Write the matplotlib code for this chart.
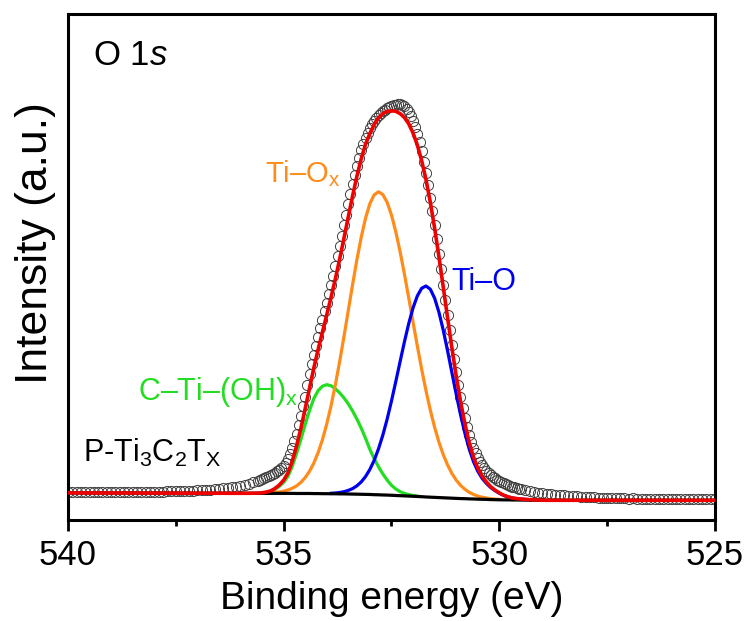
"""
O 1s XPS spectrum of P-Ti3C2Tx with the fitted components.

Values are read off the reference picture (arbitrary intensity units).
"""

import numpy as np
import matplotlib

matplotlib.use("Agg")
import matplotlib.pyplot as plt  # noqa: E402

plt.rcParams["font.family"] = ["Liberation Sans", "DejaVu Sans"]
plt.rcParams["mathtext.fontset"] = "custom"
plt.rcParams["mathtext.rm"] = "Liberation Sans"
plt.rcParams["mathtext.it"] = "Liberation Sans:italic"

# --------------------------------------------------------------------------- #
# Data
# --------------------------------------------------------------------------- #

# measured points: flat tails at 0.1 eV, the peak itself at 0.05 eV
RAW_E_LEFT = [540.0 - 0.1 * i for i in range(45)]          # 540.0 .. 535.6
RAW_LEFT = [
    8.2, 7.9, 8.1, 8.0, 7.8, 8.1, 8.3, 7.9, 8.0, 8.2,
    7.9, 8.1, 8.3, 8.0, 8.2, 8.4, 8.1, 8.3, 8.5, 8.3,
    8.5, 8.7, 8.5, 8.8, 8.9, 9.1, 9.0, 9.3, 9.5, 9.6,
    9.8, 10.1, 10.3, 10.6, 11.0, 11.4, 11.9, 12.4, 13.0, 13.7,
    14.5, 15.4, 16.5, 17.8, 19.3,
]
RAW_E_PEAK = [535.55 - 0.05 * i for i in range(122)]        # 535.55 .. 529.5
RAW_PEAK = [
    20.3, 21.5, 22.3, 23.2, 24.0, 24.9, 25.9, 27.2, 28.9, 30.0,
    31.8, 34.0, 37.5, 41.5, 46.5, 52.5, 59.5, 66.5, 75.5, 84.5,
    94.0, 103.5, 115.0, 126.5, 136.0, 145.5, 154.5, 163.5, 172.0, 180.5,
    189.0, 197.5, 206.5, 215.5, 224.5, 234.0, 244.0, 254.0, 264.5, 275.0,
    285.5, 296.0, 306.0, 316.0, 325.5, 334.5, 342.5, 350.0, 356.5, 362.5,
    367.5, 372.0, 376.0, 379.5, 382.5, 385.0, 387.0, 389.0, 390.5, 392.0,
    393.0, 394.0, 395.0, 395.5, 396.0, 396.0, 395.5, 394.0, 391.5, 388.5,
    384.5, 379.5, 373.5, 366.5, 358.0, 349.0, 338.5, 327.0, 315.0, 302.5,
    289.0, 275.5, 261.0, 246.5, 231.0, 215.5, 200.0, 185.0, 170.0, 155.5,
    141.5, 128.0, 115.0, 103.5, 92.5, 82.5, 73.5, 65.5, 58.5, 52.5,
    47.0, 42.5, 38.5, 35.0, 32.0, 29.5, 27.3, 25.3, 23.6, 22.0,
    20.6, 19.3, 18.1, 17.0, 16.0, 15.1, 14.3, 13.5, 12.8, 12.2,
    11.6, 11.1,
]
RAW_E_RIGHT = [529.4 - 0.1 * i for i in range(45)]          # 529.4 .. 525.0
RAW_RIGHT = [
    9.8, 9.0, 8.3, 7.7, 7.1, 6.6, 6.1, 5.6, 5.2, 4.8,
    4.5, 4.2, 3.9, 3.6, 3.3, 3.0, 2.8, 2.6, 2.4, 2.3,
    2.1, 2.0, 1.9, 1.8, 1.7, 1.8, 1.6, 1.5, 1.7, 1.6,
    1.4, 1.5, 1.6, 1.4, 1.3, 1.5, 1.4, 1.2, 1.4, 1.3,
    1.5, 1.3, 1.2, 1.4, 1.3,
]

# fit window, 536.0 .. 529.0 eV every 0.1 eV
FIT_E = [536.0 - 0.1 * i for i in range(71)]
BACKGROUND = [
    7.0, 7.0, 7.0, 7.0, 7.0, 7.0, 6.9, 6.9, 6.9, 6.9,
    6.9, 6.9, 6.9, 6.8, 6.8, 6.8, 6.8, 6.7, 6.7, 6.6,
    6.6, 6.5, 6.5, 6.4, 6.4, 6.3, 6.2, 6.1, 6.0, 5.9,
    5.8, 5.6, 5.5, 5.3, 5.2, 5.0, 4.8, 4.6, 4.4, 4.2,
    4.0, 3.8, 3.6, 3.3, 3.1, 2.9, 2.7, 2.5, 2.3, 2.1,
    1.9, 1.7, 1.6, 1.4, 1.3, 1.1, 1.0, 0.9, 0.7, 0.6,
    0.5, 0.4, 0.4, 0.3, 0.3, 0.2, 0.2, 0.1, 0.1, 0.0,
    0.0,
]
C_TI_OH = [
    0.0, 0.0, 0.0, 0.0, 0.1, 0.3, 1.0, 2.0, 4.0, 7.0,
    11.0, 17.0, 27.0, 40.0, 54.0, 69.0, 83.0, 95.0, 103.0, 107.5,
    109.0, 108.0, 105.0, 101.0, 96.0, 90.0, 83.0, 75.0, 66.0, 56.0,
    45.0, 36.0, 28.0, 21.0, 15.0, 10.0, 6.5, 4.0, 2.5, 1.5,
    0.8, 0.4, 0.2, 0.1, 0.0, 0.0, 0.0, 0.0, 0.0, 0.0,
    0.0, 0.0, 0.0, 0.0, 0.0, 0.0, 0.0, 0.0, 0.0, 0.0,
    0.0, 0.0, 0.0, 0.0, 0.0, 0.0, 0.0, 0.0, 0.0, 0.0,
    0.0,
]
TI_OX = [
    0.0, 0.0, 0.0, 0.1, 0.1, 0.2, 0.3, 0.5, 0.9, 1.4,
    2.2, 3.4, 5.1, 7.6, 11.1, 15.9, 22.2, 30.5, 41.0, 54.0,
    69.7, 88.1, 109.2, 132.6, 157.7, 183.8, 209.9, 234.8, 257.3, 276.4,
    290.9, 299.9, 303.0, 300.4, 292.7, 280.3, 263.8, 244.0, 221.9, 198.3,
    174.1, 150.4, 127.5, 106.3, 87.1, 70.2, 55.5, 43.2, 33.1, 24.8,
    18.3, 13.3, 9.5, 6.6, 4.6, 3.1, 2.1, 1.4, 0.9, 0.6,
    0.4, 0.2, 0.1, 0.0, 0.0, 0.0, 0.0, 0.0, 0.0, 0.0,
    0.0,
]
TI_O = [
    0.0, 0.0, 0.0, 0.0, 0.0, 0.0, 0.0, 0.0, 0.0, 0.0,
    0.0, 0.0, 0.0, 0.0, 0.0, 0.0, 0.1, 0.1, 0.2, 0.2,
    0.3, 0.5, 0.8, 1.4, 2.2, 3.6, 5.5, 8.4, 12.4, 17.9,
    25.1, 34.4, 46.0, 59.9, 76.0, 94.2, 113.9, 134.1, 154.0, 172.5,
    188.4, 200.6, 208.4, 211.0, 208.0, 199.2, 185.4, 167.7, 147.3, 125.8,
    104.4, 84.1, 65.9, 50.2, 37.5, 28.0, 21.0, 16.0, 12.0, 9.0,
    6.5, 4.5, 3.0, 2.0, 1.4, 1.0, 0.7, 0.5, 0.3, 0.2,
    0.1,
]
# background outside the fit window
BG_E_LEFT = [540.0, 539.0, 538.0, 537.0, 536.1]
BG_LEFT = [7.4, 7.3, 7.2, 7.1, 7.0]
BG_E_RIGHT = [528.9, 525.0]
BG_RIGHT = [0.0, 0.0]

GREEN = "#22dd22"
ORANGE = "#ff8c1a"
BLUE = "#0000ee"

# --------------------------------------------------------------------------- #
# Plot
# --------------------------------------------------------------------------- #

raw_e = np.array(RAW_E_LEFT + RAW_E_PEAK + RAW_E_RIGHT)
raw_i = np.array(RAW_LEFT + RAW_PEAK + RAW_RIGHT)

fit_e = np.array(FIT_E)
bg = np.array(BACKGROUND)
comps = {
    GREEN: np.array(C_TI_OH),
    ORANGE: np.array(TI_OX),
    BLUE: np.array(TI_O),
}
env = bg + sum(comps.values())

bg_e_all = np.concatenate([BG_E_LEFT, fit_e, BG_E_RIGHT])
bg_all = np.concatenate([BG_LEFT, bg, BG_RIGHT])
env_all = np.concatenate([BG_LEFT, env, BG_RIGHT])

fig = plt.figure(figsize=(7.55, 6.21), dpi=100)
ax = fig.add_axes([0.090, 0.163, 0.857, 0.814])

ax.plot(raw_e, raw_i, ls="none", marker="o", ms=7.3, mfc="none",
        mec="#404040", mew=0.7, zorder=2)
for color, comp in comps.items():
    keep = comp > 0.3
    ax.plot(fit_e[keep], (bg + comp)[keep], color=color, lw=2.3, zorder=3)
ax.plot(bg_e_all, bg_all, color="black", lw=2.3, zorder=4)
ax.plot(bg_e_all, env_all, color="#ee0000", lw=2.6, zorder=5)

ax.set_xlim(540, 525)
ax.set_ylim(-19.5, 486)
ax.set_xticks([540, 535, 530, 525])
ax.set_xticks([537.5, 532.5, 527.5], minor=True)
ax.set_yticks([])
ax.tick_params(axis="x", which="major", direction="out", length=8, width=2,
               labelsize=25, pad=6)
ax.tick_params(axis="x", which="minor", direction="out", length=4, width=2)
for sp in ax.spines.values():
    sp.set_linewidth(2.2)

ax.set_xlabel("Binding energy (eV)", fontsize=28, labelpad=6)
ax.set_ylabel("Intensity (a.u.)", fontsize=32)
ax.yaxis.set_label_coords(-0.019, 0.548)

ax.text(539.42, 435, r"O 1$\it{s}$", fontsize=25, va="baseline")
ax.text(535.43, 318, r"Ti–O$_\mathregular{x}$", fontsize=21,
        color=ORANGE, va="baseline")
ax.text(531.10, 210, "Ti–O", fontsize=22, color=BLUE, va="baseline")
ax.text(538.38, 100, r"C–Ti–(OH)$_\mathregular{x}$", fontsize=22,
        color=GREEN, va="baseline")
ax.text(539.65, 38,
        r"P-Ti$_\mathregular{3}$C$_\mathregular{2}$T$_\mathregular{X}$",
        fontsize=22, va="baseline")

fig.savefig("out.png", dpi=100)
